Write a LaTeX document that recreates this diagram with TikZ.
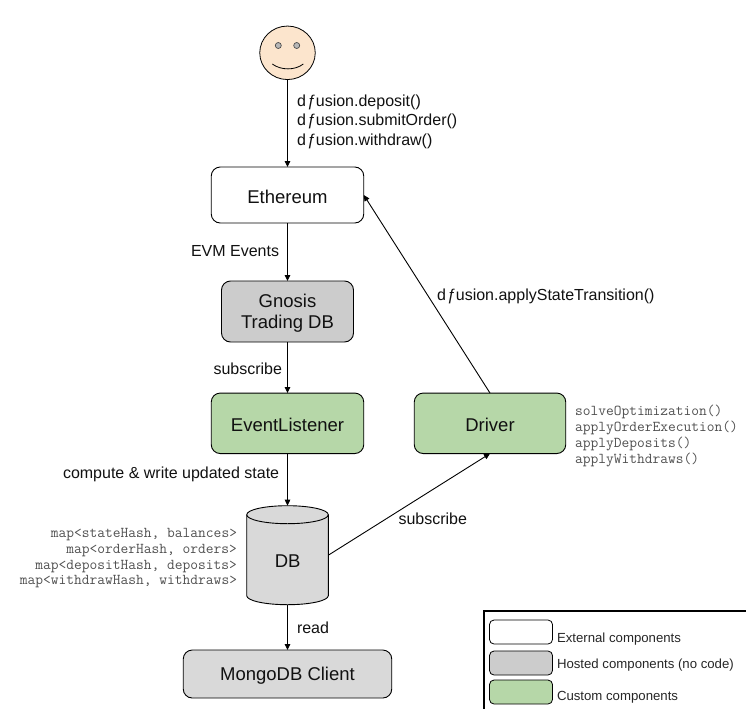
\documentclass[tikz,border=0pt]{standalone}
\usepackage{fontspec}
\setmainfont{Liberation Sans}
\usetikzlibrary{arrows.meta,shapes.geometric}
\definecolor{facec}{HTML}{FCE5CD}
\definecolor{eyec}{HTML}{B7B7B7}
\definecolor{hostc}{HTML}{CCCCCC}
\definecolor{lightg}{HTML}{D9D9D9}
\definecolor{greenc}{HTML}{B6D7A8}
\definecolor{txt}{HTML}{111111}
\definecolor{codec}{HTML}{505050}
\newcommand{\dfu}{d\kern1.5pt{ƒ}\kern-0.4pt usion}
\newcommand{\dn}[1]{\raisebox{-1.5pt}[\height][\depth]{#1}}
\tikzset{
  x=1pt,y=-1pt,
  comp/.style={draw=black,line width=0.9pt,rounded corners=9pt,inner sep=0pt,outer sep=0pt,align=center,text=txt,font=\fontsize{18.5}{20.5}\selectfont},
  ext/.style={comp,fill=white},
  host/.style={comp,fill=hostc},
  hostl/.style={comp,fill=lightg},
  cust/.style={comp,fill=greenc},
  lab/.style={inner sep=0pt,outer sep=0pt,text=txt,font=\fontsize{16}{19.5}\selectfont,align=left},
  code/.style={inner sep=0pt,outer sep=0pt,text=codec,font=\fontsize{15.05}{15.9}\selectfont\ttfamily},
  leg/.style={draw=black,line width=0.8pt,rounded corners=4.5pt,minimum width=63pt,minimum height=24pt,inner sep=0pt,outer sep=0pt},
  legt/.style={inner sep=0pt,outer sep=0pt,anchor=west,text=black!85,font=\fontsize{13.2}{15}\selectfont},
  conn/.style={draw=black,line width=0.9pt,-{Triangle[length=6pt,width=5.5pt]},shorten >=0pt},
}
\begin{document}
\begin{tikzpicture}
\useasboundingbox (0,0) rectangle (746,709);
% smiley
\node[ellipse,draw=black,line width=0.8pt,fill=facec,minimum width=55.5pt,minimum height=53.5pt,inner sep=0pt,outer sep=0pt] (face) at (287.5,52.8) {};
\node[circle,draw=black!70,line width=0.7pt,fill=eyec,minimum size=6pt,inner sep=0pt] (eyeL) at (278.3,45.5) {};
\node[circle,draw=black!70,line width=0.7pt,fill=eyec,minimum size=6pt,inner sep=0pt] (eyeR) at (296.7,45.5) {};
\draw[line width=0.8pt] (272.3,64) .. controls (281,70.5) and (295,70.5) .. (303.3,64);
% boxes
\node[ext,minimum width=152.5pt,minimum height=56pt] (eth) at (287.5,195) {\dn{Ethereum}};
\node[host,minimum width=132pt,minimum height=61pt] (gnosis) at (287.5,311.5) {\dn{Gnosis}\\\dn{Trading DB}};
\node[cust,minimum width=152.5pt,minimum height=60.5pt] (evl) at (287.5,423.3) {\dn{EventListener}};
\node[cust,minimum width=151.5pt,minimum height=60.5pt] (drv) at (490,423.3) {\dn{Driver}};
\node[hostl,minimum width=208.5pt,minimum height=48pt] (mongo) at (287.5,674) {\dn{MongoDB Client}};
% cylinder
\node[inner sep=0pt,outer sep=0pt,minimum width=81.6pt,minimum height=99pt] (db) at (287.5,555.2) {};
\path[draw=black,line width=0.9pt,fill=lightg]
  ([yshift=-9pt]db.north west) arc[start angle=180,end angle=0,x radius=40.8pt,y radius=9pt]
  -- ([yshift=9pt]db.south east) arc[start angle=0,end angle=-180,x radius=40.8pt,y radius=9pt] -- cycle;
\draw[line width=0.9pt] ([yshift=-9pt]db.north west) arc[start angle=180,end angle=360,x radius=40.8pt,y radius=9pt];
\node[text=txt,font=\fontsize{18.5}{21}\selectfont,inner sep=0pt] (dbt) at (287.7,561) {DB};
% connectors
\draw[conn] (face.south) -- (eth.north);
\draw[conn] (eth.south) -- (gnosis.north);
\draw[conn] (gnosis.south) -- (evl.north);
\draw[conn] (evl.south) -- (db.north);
\draw[conn] (db.south) -- (mongo.north);
\draw[conn] (db.east) -- (drv.south);
\draw[conn] (drv.north) -- (eth.east);
% labels
\node[lab,anchor=north west] (l1) at (297,94.5) {\dfu.deposit()\\\dfu.submitOrder()\\\dfu.withdraw()};
\node[lab,anchor=west] (l2) at (191,251) {EVM Events};
\node[lab,anchor=west] (l3) at (437,296.5) {\dfu.applyStateTransition()};
\node[lab,anchor=west] (l4) at (213.5,368.5) {subscribe};
\node[lab,anchor=west] (l5) at (63,474) {compute \& write updated state};
\node[lab,anchor=west] (l6) at (398.5,519) {subscribe};
\node[lab,anchor=west] (l7) at (297,628) {read};
\node[code,anchor=north west,align=left] (c1) at (575,405) {solveOptimization()\\applyOrderExecution()\\applyDeposits()\\applyWithdraws()};
\node[code,anchor=north east,align=right] (c2) at (237,528) {map<stateHash, balances>\\map<orderHash, orders>\\map<depositHash, deposits>\\map<withdrawHash, withdraws>};
% legend
\draw[black,line width=1.6pt] (746,611) -- (484,611) -- (484,709);
\node[leg,fill=white] (k1) at (521,632) {};
\node[leg,fill=hostc] (k2) at (521,663) {};
\node[leg,fill=greenc] (k3) at (521,692) {};
\node[legt] (t1) at (557,639) {External components};
\node[legt] (t2) at (557,665.5) {Hosted components (no code)};
\node[legt] (t3) at (557,697) {Custom components};
\end{tikzpicture}
\end{document}
